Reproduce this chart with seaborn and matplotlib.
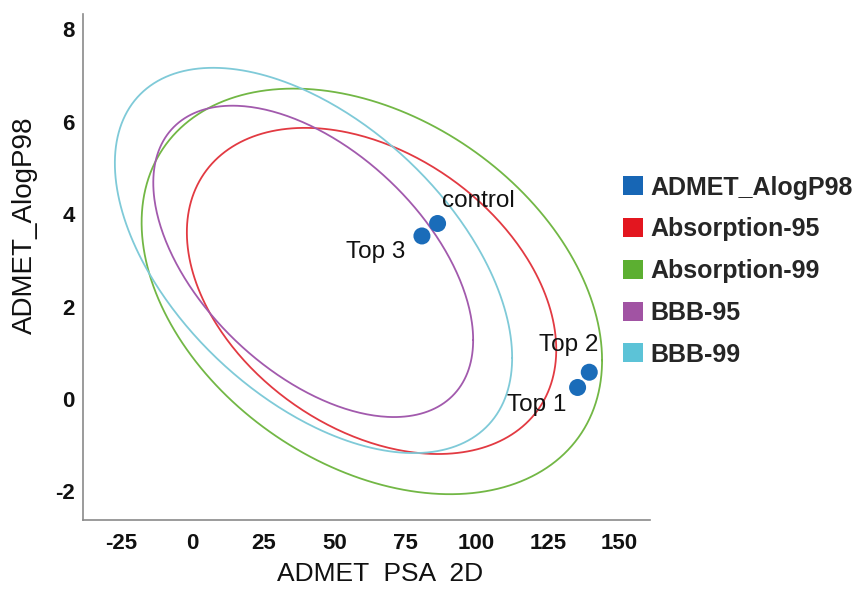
import numpy as np
import pandas as pd
import matplotlib
matplotlib.use("Agg")
import matplotlib.pyplot as plt
from matplotlib.patches import Patch
import seaborn as sns

# Confidence ellipses: centre, half-range along each axis and coupling
ellipse_names = ["Absorption-95", "Absorption-99", "BBB-95", "BBB-99"]
ellipse_cx = [63.1, 63.2, 42.6, 42.7]
ellipse_cy = [2.34, 2.33, 2.98, 3.00]
ellipse_rx = [64.9, 80.9, 56.2, 69.8]
ellipse_ry = [3.53, 4.39, 3.37, 4.17]
ellipse_coupling = [-0.36, -0.34, -0.505, -0.505]

# Compounds
compounds = ["control", "Top 3", "Top 2", "Top 1"]
psa_2d = [86.3, 80.8, 139.6, 135.5]
alogp98 = [3.80, 3.53, 0.58, 0.25]
label_offsets = [(4, 22), (-17, -16), (-50, 27), (-71, -18)]
label_align = ["left", "right", "left", "left"]

x_ticks = [-25, 0, 25, 50, 75, 100, 125, 150]
y_ticks = [-2, 0, 2, 4, 6, 8]

line_colors = {"Absorption-95": "#e23a42", "Absorption-99": "#72b745",
               "BBB-95": "#a25aad", "BBB-99": "#7fcad8"}
legend_colors = {"ADMET_AlogP98": "#1766b5", "Absorption-95": "#e3161f",
                 "Absorption-99": "#5caf31", "BBB-95": "#a153a3",
                 "BBB-99": "#5cc3d7"}
point_color = "#1a6cb9"

sns.set_style("white")
plt.rcParams["font.family"] = ["Liberation Sans", "DejaVu Sans"]

# Trace each ellipse: x = cx + rx cos t, y = cy + ry cos(t - phi)
t = np.linspace(0, 2 * np.pi, 400)
frames = []
for name, cx, cy, rx, ry, c in zip(ellipse_names, ellipse_cx, ellipse_cy,
                                   ellipse_rx, ellipse_ry, ellipse_coupling):
    phi = np.arccos(c)
    frames.append(pd.DataFrame({"x": cx + rx * np.cos(t),
                                "y": cy + ry * np.cos(t - phi),
                                "set": name, "order": np.arange(t.size)}))
curves = pd.concat(frames, ignore_index=True)
points = pd.DataFrame({"psa": psa_2d, "alogp": alogp98, "name": compounds})

fig = plt.figure(figsize=(8.6, 5.93), dpi=100)
ax = fig.add_axes([0.0965, 0.123, 0.6595, 0.853])

sns.lineplot(data=curves, x="x", y="y", hue="set", palette=line_colors,
             sort=False, estimator=None, units="set", linewidth=1.3,
             legend=False, ax=ax)
sns.scatterplot(data=points, x="psa", y="alogp", color=point_color, s=150,
                edgecolor="none", legend=False, ax=ax, zorder=5)

for name, px, py, off, ha in zip(compounds, psa_2d, alogp98, label_offsets, label_align):
    ax.annotate(name, (px, py), xytext=off, textcoords="offset pixels",
                ha=ha, va="center", fontsize=17.5, color="#111111")

ax.set_xlim(-38.3, 161)
ax.set_ylim(-2.62, 8.33)
ax.set_xticks(x_ticks)
ax.set_yticks(y_ticks)
ax.set_xticklabels([str(v) for v in x_ticks], fontweight="bold", fontsize=16)
ax.set_yticklabels([str(v) for v in y_ticks], fontweight="bold", fontsize=16)
ax.tick_params(axis="both", direction="out", length=3, width=1, color="#888888",
               pad=3, labelcolor="#111111")
ax.tick_params(axis="x", pad=6)

for side in ["top", "right"]:
    ax.spines[side].set_visible(False)
for side in ["left", "bottom"]:
    ax.spines[side].set_color("#8a8a8a")
    ax.spines[side].set_linewidth(1.2)

ax.set_xlabel("ADMET  PSA  2D", fontsize=19, color="#111111")
ax.set_ylabel("ADMET_AlogP98", fontsize=20, color="#111111")
ax.xaxis.set_label_coords(0.524, -0.083)
ax.yaxis.set_label_coords(-0.08, 0.583)

handles = [Patch(facecolor=col, edgecolor="none", label=lab)
           for lab, col in legend_colors.items()]
fig.legend(handles=handles, loc="center left", bbox_to_anchor=(0.698, 0.543),
           frameon=False, prop={"weight": "bold", "size": 18},
           handlelength=0.8, handleheight=0.8, handletextpad=0.3,
           labelspacing=0.71)

fig.savefig("out.png", dpi=100, facecolor="white")
